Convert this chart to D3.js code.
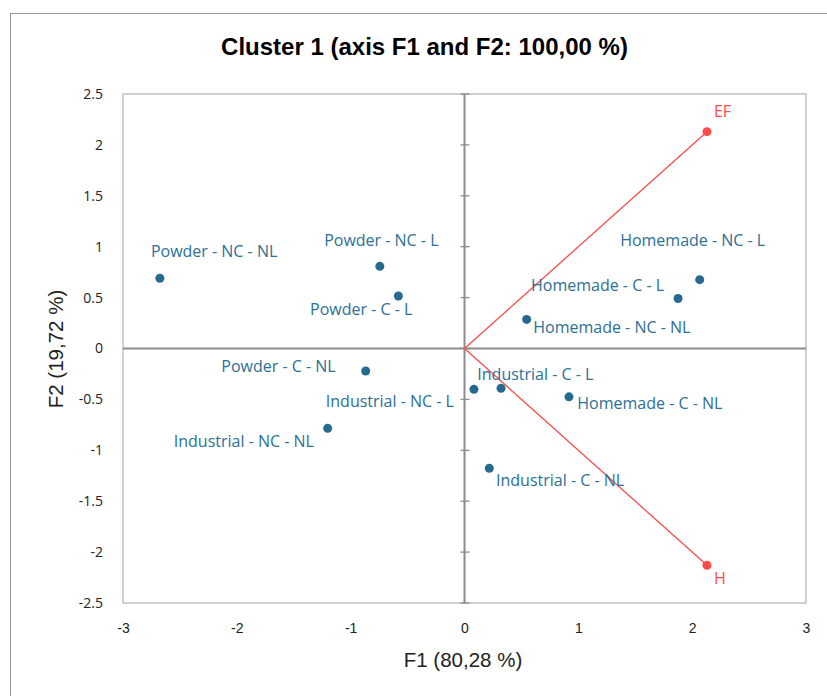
<!DOCTYPE html>
<html>
<head>
<meta charset="utf-8">
<script src="https://cdn.jsdelivr.net/npm/d3@7"></script>
<style>
  html, body { margin: 0; padding: 0; background: #fff; }
  svg { display: block; }
</style>
</head>
<body>
<svg id="chart" width="827" height="696"></svg>
<script>
// ---- data ----
const title = "Cluster 1 (axis F1 and F2: 100,00 %)";
const xTitle = "F1 (80,28 %)";
const yTitle = "F2 (19,72 %)";
const xTicks = [-3, -2, -1, 0, 1, 2, 3];
const yTicks = [-2.5, -2, -1.5, -1, -0.5, 0, 0.5, 1, 1.5, 2, 2.5];

const obsNames = [
  "Powder - NC - NL", "Powder - NC - L", "Powder - C - L", "Powder - C - NL",
  "Industrial - NC - NL", "Industrial - NC - L", "Industrial - C - L", "Industrial - C - NL",
  "Homemade - NC - NL", "Homemade - C - L", "Homemade - NC - L", "Homemade - C - NL"
];
const obsF1 = [-2.676, -0.744, -0.581, -0.868, -1.202, 0.083, 0.321, 0.218, 0.546, 1.876, 2.066, 0.918];
const obsF2 = [0.690, 0.807, 0.516, -0.221, -0.784, -0.401, -0.391, -1.177, 0.286, 0.491, 0.676, -0.475];

const varNames = ["EF", "H"];
const varF1 = [2.13, 2.13];
const varF2 = [2.13, -2.13];

// ---- label layout (pixel offsets from the point, anchor) ----
const obsLabelLayout = [
  { anchor: "start",  dx: -9,    dy: -21.6 },
  { anchor: "middle", dx: 1.5,   dy: -20 },
  { anchor: "end",    dx: 14,    dy: 19 },
  { anchor: "end",    dx: -30,   dy: 0.7 },
  { anchor: "end",    dx: -13.7, dy: 18.4 },
  { anchor: "end",    dx: -20,   dy: 17.4 },
  { anchor: "start",  dx: -23.7, dy: -8.3 },
  { anchor: "start",  dx: 6.7,   dy: 17.7 },
  { anchor: "start",  dx: 6.6,   dy: 14 },
  { anchor: "end",    dx: -14,   dy: -8 },
  { anchor: "middle", dx: -7,    dy: -33.7 },
  { anchor: "start",  dx: 8.3,   dy: 12.6 }
];
const varLabelLayout = [
  { anchor: "start", dx: 7, dy: -15 },
  { anchor: "start", dx: 7, dy: 18.3 }
];

// ---- drawing ----
const svg = d3.select("#chart");
const plot = { left: 123, right: 806, top: 94, bottom: 603 };
const x = d3.scaleLinear().domain([-3, 3]).range([plot.left, plot.right]);
const y = d3.scaleLinear().domain([-2.5, 2.5]).range([plot.bottom, plot.top]);

const blue = "#266b8f";
const blueText = "#2c7097";
const red = "#ff4a4a";
const axisGrey = "#8c8c8c";

// outer frame
svg.append("rect")
  .attr("x", 10.5).attr("y", 13.5).attr("width", 840).attr("height", 700)
  .attr("fill", "none").attr("stroke", "#9b9b9b").attr("stroke-width", 1);

// title
svg.append("text")
  .attr("x", 424.5).attr("y", 55)
  .attr("text-anchor", "middle")
  .attr("font-family", "Liberation Sans, Arial, sans-serif")
  .attr("font-weight", "bold").attr("font-size", 24)
  .attr("fill", "#000")
  .text(title);

// plot frame
svg.append("rect")
  .attr("x", plot.left).attr("y", plot.top)
  .attr("width", plot.right - plot.left).attr("height", plot.bottom - plot.top)
  .attr("fill", "none").attr("stroke", "#c8c8c8").attr("stroke-width", 1.7);

// zero axes
svg.append("line")
  .attr("x1", x(-3)).attr("x2", x(3)).attr("y1", y(0)).attr("y2", y(0))
  .attr("stroke", axisGrey).attr("stroke-width", 2);
svg.append("line")
  .attr("x1", x(0)).attr("x2", x(0)).attr("y1", y(-2.5)).attr("y2", y(2.5))
  .attr("stroke", axisGrey).attr("stroke-width", 2);
// tick marks crossing the vertical zero axis
svg.append("g").selectAll("line").data(yTicks).join("line")
  .attr("x1", x(0) - 4).attr("x2", x(0) + 5)
  .attr("y1", d => y(d)).attr("y2", d => y(d))
  .attr("stroke", axisGrey).attr("stroke-width", 1.3);

// y tick labels
const yAxis = svg.append("g")
  .attr("transform", `translate(${plot.left},0)`)
  .call(d3.axisLeft(y).tickValues(yTicks).tickSize(0).tickPadding(20).tickFormat(d => String(d)));
yAxis.select(".domain").remove();
yAxis.selectAll("text")
  .attr("font-family", "Open Sans, sans-serif").attr("font-size", 14).attr("fill", "#222");

// x tick labels
const xAxis = svg.append("g")
  .attr("transform", `translate(0,${plot.bottom})`)
  .call(d3.axisBottom(x).tickValues(xTicks).tickSize(0).tickPadding(20).tickFormat(d => String(d)));
xAxis.select(".domain").remove();
xAxis.selectAll("text")
  .attr("font-family", "Liberation Sans, Arial, sans-serif").attr("font-size", 14).attr("fill", "#222");

// axis titles
svg.append("text")
  .attr("x", 463).attr("y", 666.5)
  .attr("text-anchor", "middle")
  .attr("font-family", "Liberation Sans, Arial, sans-serif").attr("font-size", 20.5)
  .attr("fill", "#222")
  .text(xTitle);
svg.append("text")
  .attr("transform", `translate(63,349) rotate(-90)`)
  .attr("text-anchor", "middle")
  .attr("font-family", "Liberation Sans, Arial, sans-serif").attr("font-size", 20.5)
  .attr("fill", "#222")
  .text(yTitle);

// variable vectors
const vars = varNames.map((n, i) => ({ name: n, f1: varF1[i], f2: varF2[i], lay: varLabelLayout[i] }));
svg.append("g").selectAll("line").data(vars).join("line")
  .attr("x1", x(0)).attr("y1", y(0))
  .attr("x2", d => x(d.f1)).attr("y2", d => y(d.f2))
  .attr("stroke", red).attr("stroke-width", 1.3);
svg.append("g").selectAll("circle").data(vars).join("circle")
  .attr("cx", d => x(d.f1)).attr("cy", d => y(d.f2)).attr("r", 4.5)
  .attr("fill", red);
svg.append("g").selectAll("text").data(vars).join("text")
  .attr("x", d => x(d.f1) + d.lay.dx).attr("y", d => y(d.f2) + d.lay.dy)
  .attr("text-anchor", d => d.lay.anchor)
  .attr("font-family", "Open Sans, sans-serif").attr("font-size", 16)
  .attr("fill", red)
  .text(d => d.name);

// observations
const obs = obsNames.map((n, i) => ({ name: n, f1: obsF1[i], f2: obsF2[i], lay: obsLabelLayout[i] }));
svg.append("g").selectAll("circle").data(obs).join("circle")
  .attr("cx", d => x(d.f1)).attr("cy", d => y(d.f2)).attr("r", 4.5)
  .attr("fill", blue);
svg.append("g").selectAll("text").data(obs).join("text")
  .attr("x", d => x(d.f1) + d.lay.dx).attr("y", d => y(d.f2) + d.lay.dy)
  .attr("text-anchor", d => d.lay.anchor)
  .attr("font-family", "Open Sans, sans-serif").attr("font-size", 16)
  .attr("fill", blueText)
  .text(d => d.name);
</script>
</body>
</html>
